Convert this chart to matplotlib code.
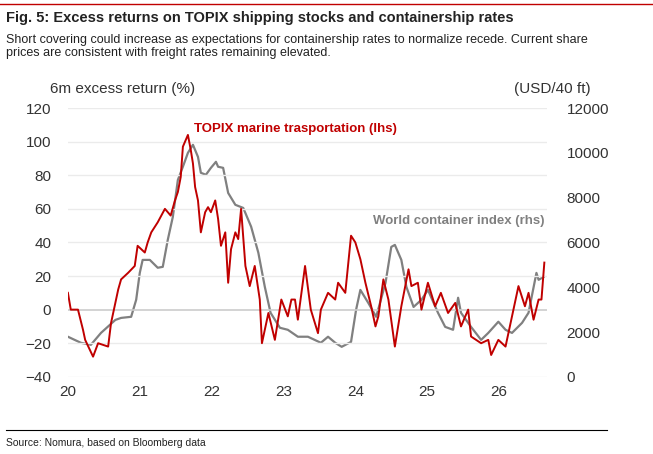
import matplotlib
matplotlib.use("Agg")
import matplotlib.pyplot as plt
from matplotlib.lines import Line2D
plt.rcParams['font.family'] = ['Liberation Sans', 'DejaVu Sans']

red_x = [20.00,20.04,20.14,20.21,20.24,20.35,20.42,20.56,20.60,20.70,20.74,20.84,20.93,20.97,21.07,21.11,21.16,21.25,21.35,21.43,21.49,21.53,21.57,21.60,21.67,21.71,21.74,21.77,21.81,21.85,21.91,21.95,21.99,22.05,22.09,22.13,22.19,22.23,22.27,22.33,22.37,22.41,22.47,22.53,22.60,22.67,22.70,22.79,22.88,22.97,23.06,23.11,23.16,23.20,23.30,23.38,23.48,23.52,23.62,23.72,23.76,23.86,23.94,24.00,24.07,24.14,24.22,24.28,24.32,24.39,24.46,24.55,24.64,24.74,24.78,24.87,24.92,25.01,25.11,25.19,25.29,25.39,25.47,25.57,25.61,25.75,25.85,25.89,25.99,26.09,26.13,26.23,26.27,26.36,26.41,26.48,26.55,26.59,26.63]
red_y = [10,0,0,-12,-18,-28,-20,-22,-8,12,18,22,26,38,34,40,46,52,60,56,65,70,79,97,104,95,87,73,65,46,58,61,58,65,54,38,46,16,36,46,42,60,26,14,26,6,-20,-2,-18,6,-4,6,6,-6,26,0,-14,0,10,6,16,10,44,40,30,16,2,-10,-4,18,6,-22,2,24,14,16,0,16,2,10,-2,4,-10,0,-16,-20,-18,-27,-18,-22,-14,6,14,2,10,-6,6,6,28]

gray_x = [20.00,20.18,20.32,20.46,20.66,20.74,20.88,20.95,21.00,21.04,21.14,21.25,21.32,21.39,21.46,21.53,21.60,21.67,21.74,21.81,21.85,21.92,21.99,22.06,22.09,22.16,22.23,22.33,22.44,22.55,22.65,22.74,22.82,22.95,23.06,23.20,23.34,23.52,23.62,23.72,23.81,23.94,24.01,24.07,24.18,24.29,24.42,24.50,24.55,24.64,24.71,24.81,24.92,25.01,25.15,25.25,25.36,25.43,25.47,25.61,25.75,25.85,25.99,26.09,26.18,26.32,26.41,26.52,26.55,26.62]
gray_y = [1790,1520,1430,1960,2540,2630,2680,3440,4640,5220,5220,4870,4910,6120,7140,8790,9380,10000,10360,9820,9110,9020,9330,9600,9380,9330,8210,7680,7540,6700,5540,4020,2860,2190,2100,1790,1790,1520,1790,1520,1340,1560,2990,3880,3300,2680,4200,5800,5890,5220,4020,3120,3440,3880,2860,2230,2100,3530,2860,2230,1650,1960,2460,2100,1960,2410,2860,4640,4330,4460]

left_ticks = [-40,-20,0,20,40,60,80,100,120]
right_ticks = [0,2000,4000,6000,8000,10000,12000]
x_ticks = [20,21,22,23,24,25,26]

RED = "#C00000"
GRAY = "#808080"
TXT = "#333333"

fig = plt.figure(figsize=(6.53,4.54), dpi=100)
ax = fig.add_axes([0.104,0.170,0.734,0.592])
ax2 = ax.twinx()
ax.set_zorder(ax2.get_zorder()+1); ax.patch.set_visible(False)

ax.set_ylim(-40,120); ax.set_yticks(left_ticks)
ax2.set_ylim(0,12000); ax2.set_yticks(right_ticks)
ax.set_xlim(20,26.67); ax.set_xticks(x_ticks)
for y in left_ticks:
    ax.axhline(y, color="#CCCCCC" if y == 0 else "#EBEBEB", lw=1.2 if y==0 else 1, zorder=0)
ax2.plot(gray_x, gray_y, color=GRAY, lw=1.6)
ax.plot(red_x, red_y, color=RED, lw=1.4)
for a in (ax, ax2):
    for s in a.spines.values(): s.set_visible(False)
    a.tick_params(length=0, labelsize=11, colors=TXT)
ax.tick_params(axis="y", pad=12)
ax2.tick_params(axis="y", pad=14)
ax.tick_params(axis="x", pad=6)

ax.text(21.75, 104, "TOPIX marine trasportation (lhs)", color=RED, fontsize=9.5, fontweight="bold", va="bottom")
ax.text(26.63, 49, "World container index (rhs)", color=GRAY, fontsize=9.5, fontweight="bold", ha="right", va="bottom")
fig.text(0.077, 0.795, "6m excess return (%)", fontsize=11, color=TXT)
fig.text(0.905, 0.795, "(USD/40 ft)", fontsize=11, color=TXT, ha="right")

fig.add_artist(Line2D([0.0,1.0],[0.991,0.991], color=RED, lw=1))
fig.text(0.009, 0.952, "Fig. 5: Excess returns on TOPIX shipping stocks and containership rates", fontsize=10.5, fontweight="bold", color="#222222")
fig.text(0.009, 0.876, "Short covering could increase as expectations for containership rates to normalize recede. Current share\nprices are consistent with freight rates remaining elevated.", fontsize=9, color="#222222", linespacing=1.1)
fig.add_artist(Line2D([0.009,0.93],[0.052,0.052], color="black", lw=0.8))
fig.text(0.009, 0.018, "Source: Nomura, based on Bloomberg data", fontsize=7.5, color="#222222")

fig.savefig("out.png", dpi=100)
